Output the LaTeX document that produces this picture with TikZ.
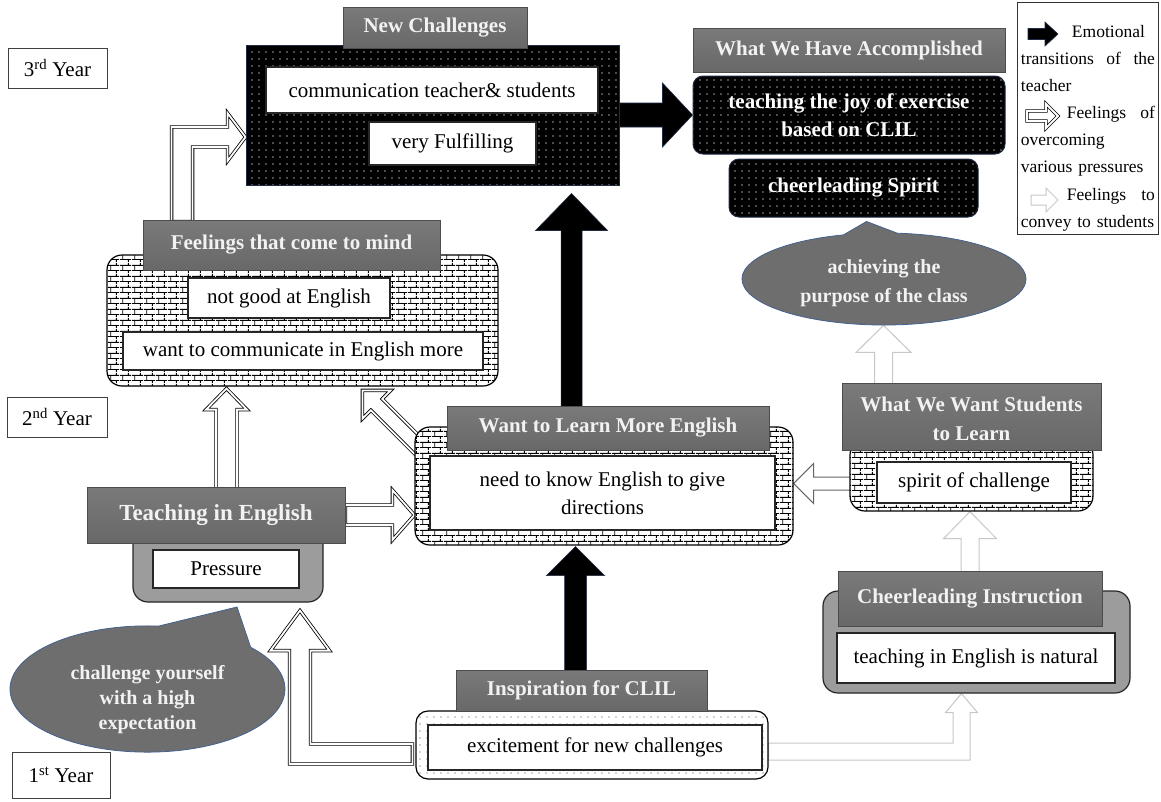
\documentclass[tikz,border=0pt]{standalone}
\usepackage{fontspec}
\setmainfont{Liberation Serif}
\usetikzlibrary{calc, backgrounds, patterns.meta, shapes.callouts}

\definecolor{hdrtop}{HTML}{7A7A7A}
\definecolor{hdrbot}{HTML}{686868}
\definecolor{hdrtext}{HTML}{F2F2F2}
\definecolor{boxgrey}{HTML}{9C9C9C}
\definecolor{bubblegrey}{HTML}{6E6E6E}
\definecolor{bubbleedge}{HTML}{44618F}
\definecolor{navyedge}{HTML}{1F2A44}

\tikzdeclarepattern{
  name=brickwall,
  type=uncolored,
  bounding box={(0pt,0pt) and (12pt,11pt)},
  tile size={(12pt,11pt)},
  code={
    \draw[line width=0.95pt] (0pt,2.75pt) -- (12pt,2.75pt) (0pt,8.25pt) -- (12pt,8.25pt)
      (3pt,2.75pt) -- (3pt,8.25pt) (9pt,8.25pt) -- (9pt,11pt) (9pt,0pt) -- (9pt,2.75pt);
  }
}

% block arrow: style, tail, tip, shaft half width, head half width, head length
\newcommand{\blockarrow}[6]{%
  \coordinate (ba-base) at ($(#3)!#6pt!(#2)$);
  \draw[#1] ($(#2)!#4pt!90:(#3)$) -- ($(ba-base)!#4pt!-90:(#2)$)
    -- ($(ba-base)!#5pt!-90:(#2)$) -- (#3) -- ($(ba-base)!#5pt!90:(#2)$)
    -- ($(ba-base)!#4pt!90:(#2)$) -- ($(#2)!#4pt!-90:(#3)$) -- cycle;
}

\tikzset{
    yearbox/.style={rectangle, draw=black!75, line width=0.9pt, fill=white,
                    inner sep=0pt, font=\fontsize{21}{26}\selectfont},
    hdr/.style={rectangle, draw=black!70, line width=0.9pt, top color=hdrtop,
                bottom color=hdrbot, text=hdrtext, align=center, inner sep=0pt,
                font=\fontsize{21}{29}\selectfont\bfseries},
    whitebox/.style={rectangle, draw=black!85, line width=1.2pt, fill=white,
                     align=center, inner sep=0pt, font=\fontsize{21}{28}\selectfont},
    darkbox/.style={rectangle, draw=navyedge, line width=1pt, preaction={fill=black},
                    pattern={Dots[distance=7pt, radius=0.8pt]},
                    pattern color=white!60!black, align=center, inner sep=0pt,
                    text=white, font=\fontsize{21}{28}\selectfont\bfseries},
    brickbox/.style={rectangle, rounded corners=15pt, draw=black, line width=1.2pt,
                     preaction={fill=white}, pattern=brickwall,
                     pattern color=black, inner sep=0pt},
    dotbox/.style={rectangle, rounded corners=12pt, draw=black, line width=1.2pt,
                   preaction={fill=white}, pattern={Dots[distance=7pt, radius=0.7pt]},
                   pattern color=black!75, inner sep=0pt},
    greybox/.style={rectangle, rounded corners=15pt, draw=black!85, line width=1.2pt,
                    fill=boxgrey, inner sep=0pt},
    bubble/.style={ellipse callout, draw=bubbleedge, line width=0.8pt, fill=bubblegrey,
                   text=hdrtext, align=center, inner sep=0pt,
                   font=\fontsize{20}{25}\selectfont\bfseries},
    legendbox/.style={rectangle, draw=black!80, line width=0.9pt, fill=white,
                      text width=134pt, inner xsep=3.5pt, inner ysep=4pt, align=left,
                      font=\fontsize{17.5}{27.1}\selectfont},
    blkarrow/.style={fill=black, draw=navyedge, line width=0.6pt},
    dblarrow/.style={draw=black, double=white, double distance=1.8pt,
                     line width=0.8pt, fill=white, line join=miter},
    lgtarrow/.style={draw=black!22, fill=white, line width=1pt},
    midarrow/.style={draw=black!60, fill=white, line width=1pt}
}

\begin{document}
\begin{tikzpicture}[x=1pt, y=-1pt]
    \useasboundingbox (0,0) rectangle (1161,801);

    % year labels
    \node[yearbox, minimum width=99, minimum height=40] (y3) at (57.5,68) {3\textsuperscript{rd} Year};
    \node[yearbox, minimum width=100, minimum height=40] (y2) at (57,417) {2\textsuperscript{nd} Year};
    \node[yearbox, minimum width=98, minimum height=46] (y1) at (61,775) {1\textsuperscript{st} Year};

    % 3rd year
    \node[darkbox, minimum width=373, minimum height=140] (ncbox) at (432.5,115) {};
    \node[hdr, minimum width=184, minimum height=41] (nchead) at (435,27.5) {New Challenges};
    \node[whitebox, minimum width=332, minimum height=46] (nca) at (432,90) {communication teacher\& students};
    \node[whitebox, minimum width=167, minimum height=43] (ncb) at (452.5,143.5) {very Fulfilling};

    \node[hdr, minimum width=312, minimum height=44] (wwhahead) at (849,50) {What We Have Accomplished};
    \node[darkbox, rounded corners=10pt, minimum width=312, minimum height=78] (wwhaa) at (849,115) {teaching the joy of exercise\\based on CLIL};
    \node[darkbox, rounded corners=10pt, minimum width=249, minimum height=58] (wwhab) at (853.5,188) {cheerleading Spirit};
    \node[bubble, minimum width=284, minimum height=92, callout pointer arc=22,
          font=\fontsize{20}{29}\selectfont\bfseries,
          callout absolute pointer={($(wwhab.south)+(13,4)$)}] (achieve) at (884,279) {\rule{0pt}{22pt}achieving the\\purpose of the class};

    \node[legendbox, anchor=north west] (legend) at (1017,2) {\rule{0pt}{31pt}\hspace*{51pt}Emotional\\
      transitions\hfill of\hfill the\\ teacher\\ \hspace*{46pt}Feelings\hfill of\\
      overcoming\\ various pressures\\ \hspace*{46pt}Feelings\hfill to\\ convey to students};

    % 2nd year
    \node[brickbox, minimum width=391, minimum height=131] (feelbox) at (302.5,320.5) {};
    \node[hdr, minimum width=297, minimum height=50] (feelhead) at (291.5,245) {Feelings that come to mind};
    \node[whitebox, minimum width=202, minimum height=40] (feela) at (289,298) {not good at English};
    \node[whitebox, minimum width=360, minimum height=38] (feelb) at (303,351) {want to communicate in English more};

    \node[greybox, minimum width=190, minimum height=97] (teachbox) at (228,553.5) {};
    \node[hdr, minimum width=258, minimum height=56, font=\fontsize{23}{28}\selectfont\bfseries] (teachhead) at (216,515) {Teaching in English};
    \node[whitebox, minimum width=146, minimum height=38] (press) at (226,569) {Pressure};

    \node[brickbox, minimum width=378, minimum height=118] (wantbox) at (604,486) {};
    \node[hdr, minimum width=322, minimum height=44] (wanthead) at (608,428) {Want to Learn More English};
    \node[whitebox, minimum width=345, minimum height=74] (wantw) at (602.5,493) {need to know English to give\\directions};

    \node[brickbox, minimum width=243, minimum height=71] (wwsbox) at (971.5,475.5) {};
    \node[hdr, minimum width=259, minimum height=67] (wwshead) at (971.5,416.5) {\rule{0pt}{20pt}What We Want Students\\to Learn};
    \node[whitebox, minimum width=194, minimum height=41] (wwsw) at (974,482.5) {spirit of challenge};

    % 1st year
    \node[bubble, minimum width=275, minimum height=118, callout pointer arc=44,
          callout absolute pointer={(237,607)}] (chall) at (147.5,689) {\rule{0pt}{35pt}challenge yourself\\with a high\\expectation};

    \node[dotbox, minimum width=352, minimum height=68] (inspbox) at (592,745) {};
    \node[hdr, minimum width=251, minimum height=41] (insphead) at (581.5,690.5) {Inspiration for CLIL};
    \node[whitebox, minimum width=334, minimum height=45] (inspw) at (595,747.5) {excitement for new challenges};

    \node[greybox, minimum width=307, minimum height=102] (cheerbox) at (976.5,642) {};
    \node[hdr, minimum width=264, minimum height=55] (cheerhead) at (970,598.5) {Cheerleading Instruction};
    \node[whitebox, minimum width=278, minimum height=50] (cheerw) at (976,658) {teaching in English is natural};

    % connectors
    \coordinate (wu) at ($(wanthead.north west)+(125,3)$);
    \coordinate (wt) at ($(ncbox.south -| wu)+(0,8)$);
    \coordinate (iu) at ($(insphead.north west)+(120,3)$);
    \coordinate (itp) at ($(wantbox.south -| iu)+(0,1)$);
    \coordinate (tu) at ($(teachhead.north)+(10.5,3)$);
    \coordinate (tt) at ($(feelbox.south -| tu)+(0,2)$);
    \coordinate (dg) at ($(wantbox.north west)+(8,24)$);
    \coordinate (dt) at ($(dg)+(-60,-60)$);
    \coordinate (cu) at ($(cheerhead.north)+(0,3)$);
    \coordinate (wl) at ($(wwsbox.west |- wwsw.center)+(3,1)$);
    \coordinate (wu2) at ($(wwshead.north west)+(42,3)$);
    \coordinate (fe) at ($(feelhead.north west)+(39.5,2)$);
    \coordinate (ft) at ($(ncbox.west)+(0,22)$);
    \coordinate (it) at ($(teachbox.south)+(72,8)$);
    \coordinate (ib) at ($(inspbox.west)+(-3,9)$);
    \coordinate (ib2) at ($(inspbox.east)+(0,6.5)$);
    \coordinate (ct) at ($(cheerbox.south)+(-15,0)$);

    \begin{scope}[on background layer]
      \blockarrow{blkarrow}{ncbox.east}{wwhaa.west}{12}{32}{30}
      \blockarrow{blkarrow}{wu}{wt}{10.5}{36}{37}
      \blockarrow{blkarrow}{iu}{itp}{11}{29}{29}
      \blockarrow{dblarrow}{tu}{tt}{10.5}{20.5}{21}
      \blockarrow{dblarrow}{teachhead.east}{wantbox.west |- teachhead.east}{10}{25}{22}
      \blockarrow{dblarrow}{dg}{dt}{8}{20}{20}
      \blockarrow{lgtarrow}{cu}{wwsbox.south -| cu}{9}{26.5}{27}
      \blockarrow{midarrow}{wl}{wantbox.east |- wl}{6.5}{20}{20}
      \blockarrow{lgtarrow}{wu2}{achieve.south -| wu2}{9}{27.5}{27}
      \draw[dblarrow] ($(fe)+(-10.5,0)$) |- ($(ft)+(-18,-10)$) -- ++(0,-14) -- (ft)
        -- ($(ft)+(-18,24)$) -- ++(0,-14) -| ($(fe)+(10.5,0)$) -- cycle;
      \draw[dblarrow] ($(ib)+(0,-10)$) -| ($(it)+(10.5,40)$) -- ($(it)+(29.5,40)$) -- (it)
        -- ($(it)+(-29.5,40)$) -- ($(it)+(-10.5,40)$) |- ($(ib)+(0,10)$) -- cycle;
      \draw[lgtarrow] ($(ib2)+(0,-8.5)$) -| ($(ct)+(-8.5,19)$) -- ($(ct)+(-16,19)$) -- (ct)
        -- ($(ct)+(16,19)$) -- ($(ct)+(8.5,19)$) |- ($(ib2)+(0,8.5)$) -- cycle;
    \end{scope}

    % legend icons
    \coordinate (lga) at ($(legend.north west)+(11,32)$);
    \coordinate (lgb) at ($(legend.north west)+(41,32)$);
    \coordinate (lgc) at ($(legend.north west)+(10,114)$);
    \coordinate (lgd) at ($(legend.north west)+(41,114)$);
    \coordinate (lge) at ($(legend.north west)+(14,198)$);
    \coordinate (lgf) at ($(legend.north west)+(41,198)$);
    \blockarrow{blkarrow}{lga}{lgb}{5.5}{12}{13}
    \blockarrow{dblarrow}{lgc}{lgd}{5}{12}{12}
    \blockarrow{lgtarrow}{lge}{lgf}{5}{12}{12}
\end{tikzpicture}
\end{document}
